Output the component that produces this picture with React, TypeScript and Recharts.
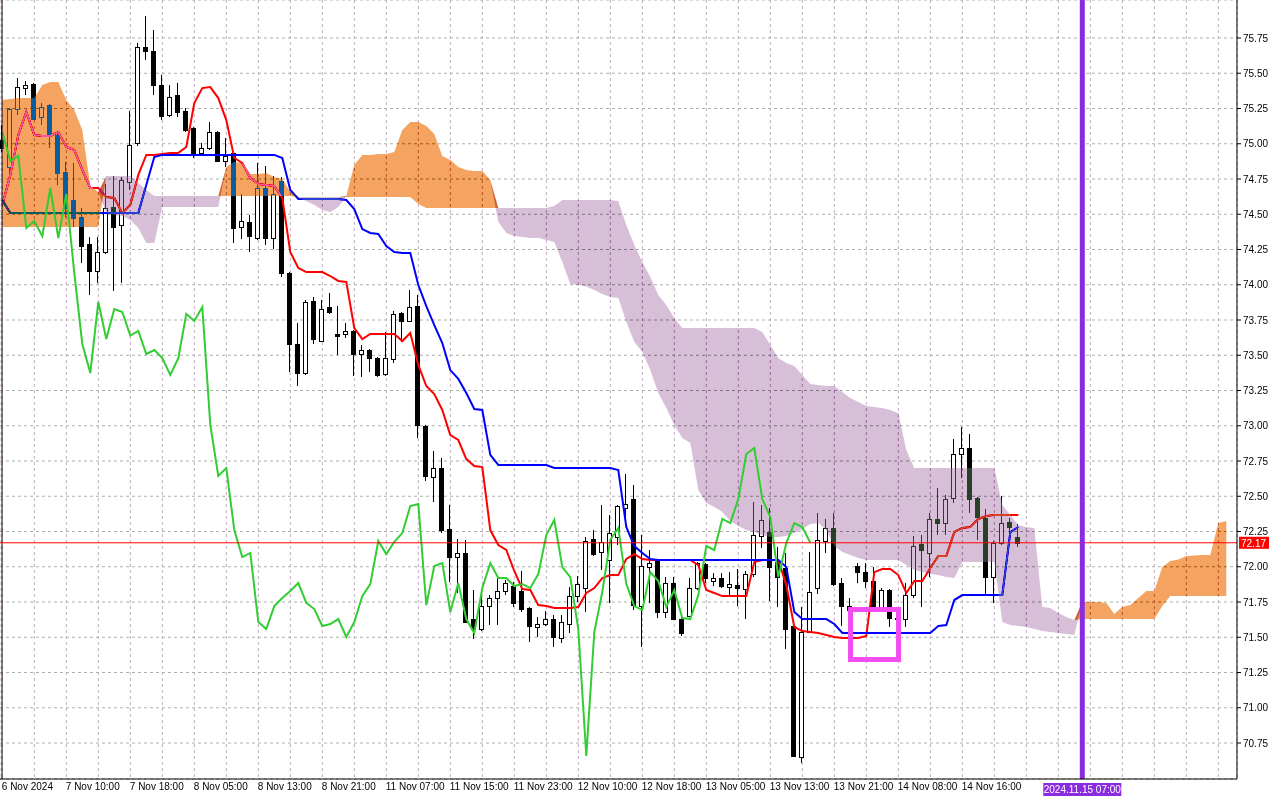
import React from "react";
import {
  ComposedChart,
  Bar,
  Line,
  Area,
  XAxis,
  YAxis,
  CartesianGrid,
  ReferenceLine,
  ReferenceArea,
} from "recharts";

// H1 candles, 6 Nov 2024 .. 14 Nov 2024
const opens = [
  75.026, 74.835, 75.246, 75.395, 75.423, 75.189, 75.275, 75.062, 74.8, 74.601,
  74.48, 74.289, 74.097, 74.232, 74.551, 74.424, 74.729, 75.006, 75.686, 75.658,
  75.416, 75.204, 75.345, 75.232, 75.111, 74.935, 74.97, 75.083, 74.878, 74.935,
  74.41, 74.445, 74.331, 74.686, 74.331, 74.736, 74.083, 73.58, 73.374, 73.885,
  73.601, 73.842, 73.651, 73.651, 73.672, 73.509, 73.537, 73.48, 73.367, 73.473,
  73.8, 73.743, 73.849, 72.999, 72.636, 72.7, 72.267, 72.069, 72.098, 71.629,
  71.558, 71.721, 71.778, 71.828, 71.863, 71.828, 71.707, 71.573, 71.594, 71.629,
  71.495, 71.594, 71.792, 71.849, 72.197, 72.105, 72.048, 72.211, 72.416, 72.48,
  71.721, 71.998, 72.041, 71.679, 71.884, 71.629, 71.651, 71.849, 72.019, 71.899,
  71.92, 71.856, 71.87, 71.842, 71.948, 72.218, 72.246, 72.034, 71.991, 71.58,
  70.651, 71.537, 71.849, 72.183, 72.275, 71.884, 71.721, 72.005, 71.962, 71.899,
  71.714, 71.835, 71.636, 71.629, 71.799, 72.161, 72.098, 72.339, 72.31, 72.487,
  72.8, 72.842, 72.487, 72.346, 71.927, 72.168, 72.317, 72.211,
];
const highs = [
  75.133, 75.253, 75.466, 75.445, 75.431, 75.289, 75.282, 75.069, 74.871, 74.864,
  74.544, 74.338, 74.338, 74.715, 74.771, 74.764, 75.232, 75.715, 75.906, 75.807,
  75.488, 75.416, 75.431, 75.253, 75.118, 75.006, 75.154, 75.09, 75.04, 74.942,
  74.644, 74.495, 74.864, 74.842, 74.771, 74.764, 74.09, 73.729, 73.892, 73.913,
  73.892, 73.942, 73.849, 73.729, 73.679, 73.573, 73.544, 73.487, 73.665, 73.814,
  73.807, 73.963, 73.927, 73.006, 72.821, 72.771, 72.438, 72.197, 72.19, 71.835,
  71.814, 71.799, 71.927, 71.906, 71.892, 71.97, 71.714, 71.643, 71.686, 71.658,
  71.658, 71.856, 71.934, 72.211, 72.26, 72.438, 72.367, 72.438, 72.658, 72.58,
  72.225, 72.119, 72.048, 71.927, 71.927, 71.672, 71.92, 72.034, 72.026, 71.955,
  71.955, 71.962, 71.984, 71.97, 72.459, 72.438, 72.416, 72.14, 72.098, 71.587,
  71.714, 72.105, 72.381, 72.339, 72.381, 71.92, 71.778, 72.026, 72.026, 71.998,
  71.849, 71.842, 71.679, 71.884, 72.218, 72.225, 72.381, 72.558, 72.509, 72.906,
  72.991, 72.941, 72.494, 72.41, 72.183, 72.502, 72.346, 72.303,
];
const lows = [
  74.942, 74.779, 75.204, 75.345, 75.168, 75.133, 74.97, 74.708, 74.48, 74.41,
  74.154, 73.927, 74.013, 74.218, 73.956, 74.013, 74.672, 74.984, 75.594, 75.345,
  75.168, 75.189, 75.189, 75.083, 74.899, 74.921, 74.956, 74.871, 74.835, 74.296,
  74.324, 74.232, 74.317, 74.282, 74.253, 74.055, 73.381, 73.282, 73.36, 73.58,
  73.594, 73.793, 73.502, 73.622, 73.353, 73.346, 73.381, 73.346, 73.353, 73.445,
  73.594, 73.736, 72.913, 72.608, 72.459, 72.239, 71.892, 71.814, 71.601, 71.488,
  71.544, 71.587, 71.587, 71.799, 71.714, 71.679, 71.467, 71.502, 71.58, 71.431,
  71.459, 71.53, 71.75, 71.679, 72.076, 71.977, 71.743, 72.154, 72.332, 71.693,
  71.431, 71.743, 71.636, 71.636, 71.622, 71.509, 71.643, 71.835, 71.884, 71.863,
  71.849, 71.792, 71.721, 71.629, 71.927, 72.133, 71.757, 71.714, 71.417, 70.651,
  70.609, 71.53, 71.807, 72.098, 71.863, 71.58, 71.679, 71.884, 71.849, 71.707,
  71.707, 71.573, 71.566, 71.573, 71.778, 71.714, 71.927, 72.225, 72.225, 72.452,
  72.629, 72.381, 72.19, 71.807, 71.743, 72.154, 72.246, 72.14,
];
const closes = [
  74.97, 75.246, 75.402, 75.416, 75.175, 75.26, 75.062, 74.793, 74.544, 74.473,
  74.274, 74.097, 74.232, 74.544, 74.41, 74.743, 74.991, 75.686, 75.658, 75.416,
  75.197, 75.331, 75.225, 75.097, 74.921, 74.97, 75.083, 74.878, 74.913, 74.402,
  74.452, 74.345, 74.686, 74.331, 74.644, 74.083, 73.58, 73.374, 73.878, 73.615,
  73.828, 73.807, 73.64, 73.672, 73.509, 73.537, 73.48, 73.36, 73.48, 73.793,
  73.743, 73.842, 73.006, 72.644, 72.7, 72.26, 72.069, 72.098, 71.608, 71.558,
  71.721, 71.778, 71.828, 71.884, 71.743, 71.7, 71.58, 71.594, 71.629, 71.502,
  71.608, 71.792, 71.877, 72.183, 72.09, 72.176, 72.239, 72.431, 72.445, 71.728,
  72.005, 72.026, 71.679, 71.884, 71.629, 71.53, 71.849, 72.026, 71.92, 71.92,
  71.863, 71.877, 71.849, 71.948, 72.225, 72.332, 71.998, 71.927, 71.558, 70.658,
  71.537, 71.821, 72.19, 72.275, 71.877, 71.721, 71.693, 71.962, 71.899, 71.714,
  71.835, 71.636, 71.629, 71.799, 72.147, 72.119, 72.339, 72.31, 72.48, 72.8,
  72.842, 72.48, 72.353, 71.927, 72.168, 72.31, 72.282, 72.17,
];

// Ichimoku lines
const tenkan = [
  74.565, 74.779, 75.062, 75.225, 75.062, 75.055, 75.055, 75.083, 74.977, 74.956,
  74.814, 74.686, 74.686, 74.622, 74.615, 74.509, 74.565, 74.779, 74.921, 74.921,
  74.928, 74.935, 74.935, 74.977, 75.289, 75.395, 75.402, 75.324, 75.168, 74.899,
  74.864, 74.757, 74.715, 74.708, 74.7, 74.615, 74.232, 74.119, 74.09, 74.09,
  74.09, 74.062, 74.027, 74.02, 73.693, 73.615, 73.651, 73.651, 73.651, 73.651,
  73.601, 73.658, 73.431, 73.282, 73.225, 73.112, 72.934, 72.899, 72.764, 72.714,
  72.707, 72.26, 72.154, 72.119, 71.97, 71.842, 71.835, 71.728, 71.721, 71.707,
  71.707, 71.707, 71.714, 71.814, 71.849, 71.92, 71.941, 71.941, 72.055, 72.09,
  72.055, 72.048, 72.048, 72.048, 72.048, 72.048, 72.048, 72.012, 71.835, 71.814,
  71.792, 71.792, 71.792, 71.792, 72.034, 72.048, 72.048, 72.048, 71.87, 71.573,
  71.544, 71.537, 71.53, 71.516, 71.502, 71.495, 71.495, 71.495, 71.509, 71.962,
  71.984, 71.984, 71.941, 71.814, 71.899, 71.899, 71.991, 72.076, 72.076, 72.246,
  72.275, 72.282, 72.339, 72.36, 72.367, 72.367, 72.367, 72.367,
];
const kijun = [
  74.601, 74.509, 74.509, 74.509, 74.509, 74.509, 74.509, 74.509, 74.509, 74.509,
  74.509, 74.509, 74.509, 74.509, 74.509, 74.509, 74.509, 74.509, 74.708, 74.906,
  74.921, 74.921, 74.921, 74.921, 74.921, 74.921, 74.921, 74.921, 74.921, 74.921,
  74.921, 74.921, 74.921, 74.921, 74.921, 74.899, 74.672, 74.608, 74.608, 74.608,
  74.608, 74.608, 74.608, 74.601, 74.537, 74.395, 74.367, 74.36, 74.274, 74.232,
  74.225, 74.225, 73.998, 73.849, 73.714, 73.587, 73.395, 73.332, 73.232, 73.119,
  73.112, 72.793, 72.722, 72.722, 72.722, 72.722, 72.722, 72.722, 72.722, 72.7,
  72.7, 72.7, 72.7, 72.7, 72.7, 72.7, 72.7, 72.686, 72.282, 72.147,
  72.098, 72.055, 72.048, 72.048, 72.048, 72.048, 72.048, 72.048, 72.048, 72.048,
  72.048, 72.048, 72.048, 72.048, 72.048, 72.048, 72.048, 72.048, 71.998, 71.679,
  71.629, 71.629, 71.629, 71.629, 71.594, 71.53, 71.53, 71.53, 71.53, 71.53,
  71.53, 71.53, 71.53, 71.53, 71.53, 71.53, 71.53, 71.58, 71.587, 71.764,
  71.799, 71.799, 71.799, 71.799, 71.799, 71.799, 72.246, 72.282,
];
// Senkou spans, already shifted 26 bars ahead
const spanA = [
  75.31, 75.317, 75.324, 75.324, 75.324, 75.416, 75.438, 75.438, 75.31, 75.239,
  75.097, 74.7, 74.658, 74.509, 74.495, 74.488, 74.459, 74.402, 74.296, 74.296,
  74.551, 74.551, 74.551, 74.551, 74.551, 74.551, 74.551, 74.551, 74.835, 74.871,
  74.864, 74.786, 74.786, 74.793, 74.764, 74.75, 74.658, 74.615, 74.594, 74.566,
  74.53, 74.516, 74.551, 74.63, 74.85, 74.921, 74.921, 74.928, 74.928, 74.942,
  75.097, 75.154, 75.154, 75.126, 75.069, 74.913, 74.885, 74.835, 74.814, 74.807,
  74.807, 74.743, 74.445, 74.367, 74.345, 74.338, 74.331, 74.331, 74.317, 74.303,
  74.161, 74.005, 73.998, 73.988, 73.963, 73.934, 73.913, 73.906, 73.736, 73.594,
  73.523, 73.395, 73.232, 73.126, 73.006, 72.913, 72.878, 72.544, 72.452, 72.424,
  72.388, 72.325, 72.289, 72.26, 72.246, 72.225, 72.211, 72.211, 72.218, 72.239,
  72.267, 72.303, 72.31, 72.26, 72.147, 72.105, 72.083, 72.062, 72.048, 72.048,
  72.048, 72.048, 72.048, 72.012, 71.977, 71.962, 71.948, 71.941, 71.927, 71.92,
  72.034, 72.034, 72.034, 72.034, 72.034, 71.608, 71.587, 71.58, 71.573, 71.558,
  71.544, 71.537, 71.53, 71.523, 71.516, 71.75, 71.75, 71.75, 71.743, 71.665,
  71.714, 71.728, 71.778, 71.828, 71.828, 71.998, 72.041, 72.051, 72.076, 72.08,
  72.083, 72.083, 72.31, 72.324,
];
const spanB = [
  74.41, 74.41, 74.41, 74.41, 74.41, 74.41, 74.41, 74.41, 74.41, 74.41,
  74.41, 74.41, 74.41, 74.771, 74.771, 74.771, 74.771, 74.722, 74.672, 74.63,
  74.63, 74.63, 74.63, 74.63, 74.63, 74.63, 74.63, 74.63, 74.63, 74.63,
  74.63, 74.63, 74.63, 74.63, 74.63, 74.63, 74.63, 74.622, 74.622, 74.622,
  74.622, 74.622, 74.622, 74.622, 74.622, 74.622, 74.622, 74.622, 74.622, 74.622,
  74.622, 74.622, 74.573, 74.544, 74.544, 74.544, 74.544, 74.544, 74.544, 74.544,
  74.544, 74.544, 74.544, 74.544, 74.544, 74.544, 74.544, 74.544, 74.544, 74.558,
  74.601, 74.601, 74.601, 74.601, 74.601, 74.601, 74.601, 74.594, 74.424, 74.282,
  74.161, 74.055, 73.927, 73.857, 73.764, 73.693, 73.693, 73.693, 73.693, 73.693,
  73.693, 73.693, 73.693, 73.693, 73.693, 73.665, 73.573, 73.48, 73.445, 73.424,
  73.36, 73.296, 73.289, 73.282, 73.282, 73.239, 73.197, 73.168, 73.14, 73.133,
  73.126, 73.112, 73.091, 72.828, 72.7, 72.7, 72.7, 72.7, 72.7, 72.7,
  72.7, 72.7, 72.7, 72.7, 72.7, 72.438, 72.367, 72.296, 72.282, 72.275,
  71.714, 71.707, 71.672, 71.643, 71.622, 71.629, 71.629, 71.629, 71.629, 71.629,
  71.629, 71.629, 71.629, 71.629, 71.629, 71.721, 71.792, 71.792, 71.792, 71.792,
  71.792, 71.792, 71.792, 71.792,
];

// one time label every 8 bars
const timeLabels = [
  "6 Nov 2024", "7 Nov 10:00", "7 Nov 18:00", "8 Nov 05:00", "8 Nov 13:00",
  "8 Nov 21:00", "11 Nov 07:00", "11 Nov 15:00", "11 Nov 23:00", "12 Nov 10:00",
  "12 Nov 18:00", "13 Nov 05:00", "13 Nov 13:00", "13 Nov 21:00", "14 Nov 08:00",
  "14 Nov 16:00",
];
const priceTicks = [
  70.75, 71, 71.25, 71.5, 71.75, 72, 72.25, 72.5, 72.75, 73, 73.25, 73.5, 73.75,
  74, 74.25, 74.5, 74.75, 75, 75.25, 75.5, 75.75,
];
const gridBars = Array.from({ length: 39 }, (_, i) => i * 4);

const LAG = 26;
const cursorBar = 135;
const cursorLabel = "2024.11.15 07:00";
const boxBars = [106.03, 112.03];
const boxPrices = [71.343, 71.697];

const FONT = "'Liberation Sans', Arial, sans-serif";
const blend: React.CSSProperties = { mixBlendMode: "difference" };

const rows = spanA.map((a, i) => {
  const b = spanB[i];
  const top = Math.max(a, b);
  const has = i < closes.length;
  return {
    i,
    range: has ? [lows[i], highs[i]] : null,
    open: has ? opens[i] : null,
    close: has ? closes[i] : null,
    tenkan: has ? tenkan[i] : null,
    kijun: has ? kijun[i] : null,
    chikou: i + LAG < closes.length ? closes[i + LAG] : null,
    sandy: [b, top],
    thistle: [a, top],
  };
});

const Candle = (props: any) => {
  const { x, y, width, height, payload } = props;
  if (!payload || payload.open == null) return null;
  const [lo, hi] = payload.range;
  const top = Math.min(y, y + height);
  const h = Math.abs(height);
  const toY = (v: number) => (hi === lo ? top : top + ((hi - v) / (hi - lo)) * h);
  const col = Math.floor(x + width / 2);
  const yo = toY(payload.open);
  const yc = toY(payload.close);
  const bull = payload.close >= payload.open;
  const bt = Math.round(Math.min(yo, yc)) + 0.5;
  const bh = Math.max(1, Math.round(Math.abs(yc - yo)));
  return (
    <g>
      <line x1={col + 0.5} x2={col + 0.5} y1={top} y2={top + h} stroke="#000" strokeWidth={1} />
      <rect x={col - 1.5} y={bt} width={4} height={bh} fill={bull ? "#fff" : "#000"} stroke="#000" strokeWidth={1} />
    </g>
  );
};

const TimeTick = (props: any) => {
  const { x, payload } = props;
  const bar = payload.value;
  const label = bar % 8 === 0 ? timeLabels[bar / 8] : undefined;
  if (!label) return <g />;
  return (
    <text x={x - 0.5} y={790} fontSize={10} fontFamily={FONT} fill="#000" textAnchor="start">
      {label}
    </text>
  );
};

const PriceTag = (props: any) => {
  const vb = props.viewBox || {};
  const right = (vb.x ?? 0) + (vb.width ?? 1237);
  const y = vb.y ?? 0;
  return (
    <g>
      <rect x={right + 2} y={y - 6} width={30} height={12} fill="#ff0000" />
      <text x={right + 4} y={y + 4} fontSize={10} fontFamily={FONT} fill="#fff">
        {closes[closes.length - 1].toFixed(2)}
      </text>
    </g>
  );
};

const TimeTag = (props: any) => {
  const vb = props.viewBox || {};
  const cx = vb.x ?? 0;
  const bottom = (vb.y ?? 0) + (vb.height ?? 779);
  return (
    <g>
      <rect x={cx - 39} y={bottom + 4} width={78} height={13} fill="#8a2be2" />
      <text x={cx} y={bottom + 14} fontSize={10} fontFamily={FONT} fill="#fff" textAnchor="middle">
        {cursorLabel}
      </text>
    </g>
  );
};

export default function App() {
  return (
    <div style={{ width: 1280, height: 800, background: "#fff" }}>
      <style>{`body{margin:0;background:#fff}
.cloud, .cloud path, .recharts-area, .recharts-area-area { mix-blend-mode: difference !important; }`}</style>
      <ComposedChart
        width={1280}
        height={800}
        data={rows}
        margin={{ top: 0, right: 0, bottom: 0, left: 0 }}
      >
        <CartesianGrid vertical={false} stroke="#a9b3a9" strokeDasharray="3 3" fill="#fff" />
        <CartesianGrid horizontal={false} stroke="#c4a9c4" strokeDasharray="3 3" />
        <XAxis
          dataKey="i"
          type="number"
          domain={[-0.2875, 154.3375]}
          allowDataOverflow
          ticks={gridBars}
          tick={<TimeTick />}
          tickLine={false}
          axisLine={{ stroke: "#000" }}
          height={21}
          interval={0}
        />
        <YAxis
          orientation="right"
          type="number"
          domain={[70.4947, 76.0195]}
          allowDataOverflow
          ticks={priceTicks}
          interval={0}
          width={43}
          tickSize={4}
          tickLine={{ stroke: "#000" }}
          axisLine={{ stroke: "#000" }}
          tick={{ fontSize: 10, fill: "#000", fontFamily: FONT }}
          tickFormatter={(v: number) => v.toFixed(2)}
        />
        <Bar dataKey="range" barSize={5} shape={<Candle />} isAnimationActive={false} zIndex={300} />
        <Line dataKey="tenkan" type="linear" stroke="#ff0000" strokeWidth={2} dot={false} activeDot={false} isAnimationActive={false} zIndex={320} />
        <Line dataKey="kijun" type="linear" stroke="#0000ff" strokeWidth={2} dot={false} activeDot={false} isAnimationActive={false} zIndex={321} />
        <Area className="cloud" style={blend} dataKey="sandy" type="linear" stroke="none" fill="rgb(11,91,159)" fillOpacity={1} dot={false} activeDot={false} isAnimationActive={false} zIndex={350} />
        <Area className="cloud" style={blend} dataKey="thistle" type="linear" stroke="none" fill="rgb(39,64,39)" fillOpacity={1} dot={false} activeDot={false} isAnimationActive={false} zIndex={351} />
        <Line dataKey="chikou" type="linear" stroke="#32cd32" strokeWidth={2} dot={false} activeDot={false} isAnimationActive={false} zIndex={400} />
        <ReferenceLine x={-0.0375} stroke="#000" strokeWidth={1} zIndex={410} />
        <ReferenceLine y={closes[closes.length - 1]} stroke="#ff0000" strokeWidth={1} label={<PriceTag />} zIndex={450} />
        <ReferenceLine x={cursorBar} stroke="#8a2be2" strokeWidth={5} label={<TimeTag />} zIndex={460} />
        <ReferenceArea
          x1={boxBars[0]}
          x2={boxBars[1]}
          y1={boxPrices[0]}
          y2={boxPrices[1]}
          fill="none"
          fillOpacity={0}
          stroke="#f24cf2"
          strokeWidth={5}
          zIndex={470}
        />
      </ComposedChart>
    </div>
  );
}
